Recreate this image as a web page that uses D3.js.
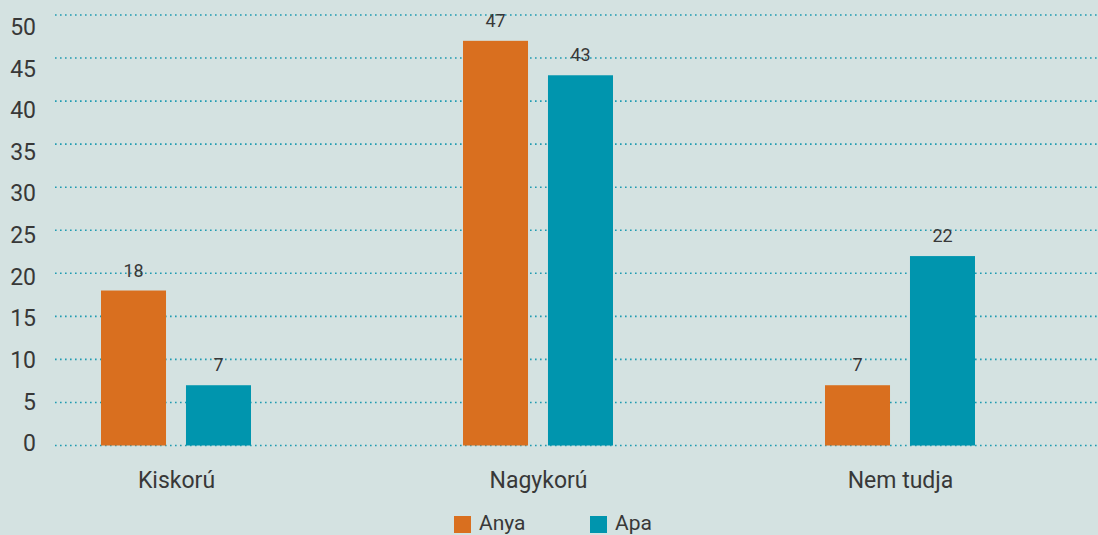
<!DOCTYPE html>
<html>
<head>
<meta charset="utf-8">
<script src="https://cdn.jsdelivr.net/npm/d3@7"></script>
<style>
  html, body { margin: 0; padding: 0; background: #d4e2e1; }
  svg { display: block; }
  text { font-family: Roboto, "Noto Sans", sans-serif; fill: #383838; }
</style>
</head>
<body>
<svg id="chart" width="1098" height="535"></svg>
<script>
// Chart data
const categories = ["Kiskorú", "Nagykorú", "Nem tudja"];
const seriesNames = ["Anya", "Apa"];
const anyaValues = [18, 47, 7];
const apaValues = [7, 43, 22];
const yTicks = [0, 5, 10, 15, 20, 25, 30, 35, 40, 45, 50];

const colors = { "Anya": "#d96f1f", "Apa": "#0095ae" };

const W = 1098, H = 535;
const svg = d3.select("#chart");

// Build rows from the arrays
const rows = categories.map((c, i) => ({
  category: c,
  values: [
    { series: "Anya", value: anyaValues[i] },
    { series: "Apa", value: apaValues[i] }
  ]
}));

// Scales
const y = d3.scaleLinear().domain([0, 50]).range([445.5, 15]);
const yLabel = d3.scaleLinear().domain([0, 50]).range([443.5, 27]);
const x0 = d3.scalePoint().domain(categories).range([176, 900]);
const x1 = d3.scaleBand().domain(seriesNames).range([-75, 75]).paddingInner(0.235);

// Dotted gridlines
svg.append("g")
  .selectAll("line")
  .data(yTicks)
  .join("line")
  .attr("x1", 55)
  .attr("x2", W)
  .attr("y1", d => y(d))
  .attr("y2", d => y(d))
  .attr("stroke", "#1f9bb1")
  .attr("stroke-width", 1.6)
  .attr("stroke-dasharray", "1.6 3.4");

// Y axis labels
const yAxis = d3.axisLeft(yLabel).tickValues(yTicks).tickSize(0).tickPadding(0);
const yAxisG = svg.append("g")
  .attr("transform", "translate(36,0)")
  .call(yAxis);
yAxisG.select(".domain").remove();
yAxisG.selectAll("text")
  .attr("font-size", 23)
  .attr("font-family", "Roboto, sans-serif")
  .attr("fill", "#383838");

// Bars
const groups = svg.append("g")
  .selectAll("g")
  .data(rows)
  .join("g")
  .attr("transform", d => `translate(${x0(d.category)},0)`);

groups.selectAll("rect")
  .data(d => d.values)
  .join("rect")
  .attr("x", d => x1(d.series))
  .attr("width", x1.bandwidth())
  .attr("y", d => y(d.value))
  .attr("height", d => y(0) - y(d.value))
  .attr("fill", d => colors[d.series]);

// Value labels
groups.selectAll("text.val")
  .data(d => d.values)
  .join("text")
  .attr("class", "val")
  .attr("x", d => x1(d.series) + x1.bandwidth() / 2)
  .attr("y", d => y(d.value) - 14)
  .attr("text-anchor", "middle")
  .attr("font-size", 18)
  .text(d => d.value);

// Category labels
const xAxis = d3.axisBottom(x0).tickSize(0).tickPadding(0);
const xAxisG = svg.append("g")
  .attr("transform", "translate(0,472)")
  .call(xAxis);
xAxisG.select(".domain").remove();
xAxisG.selectAll("text")
  .attr("font-size", 23)
  .attr("font-family", "Roboto, sans-serif")
  .attr("fill", "#383838");

// Legend
const legendX = d3.scaleOrdinal().domain(seriesNames).range([454, 590]);
const legend = svg.append("g")
  .selectAll("g")
  .data(seriesNames)
  .join("g")
  .attr("transform", d => `translate(${legendX(d)},516)`);
legend.append("rect")
  .attr("width", 17)
  .attr("height", 17)
  .attr("fill", d => colors[d]);
legend.append("text")
  .attr("x", 25)
  .attr("y", 13.5)
  .attr("font-size", 21)
  .text(d => d);
</script>
</body>
</html>
